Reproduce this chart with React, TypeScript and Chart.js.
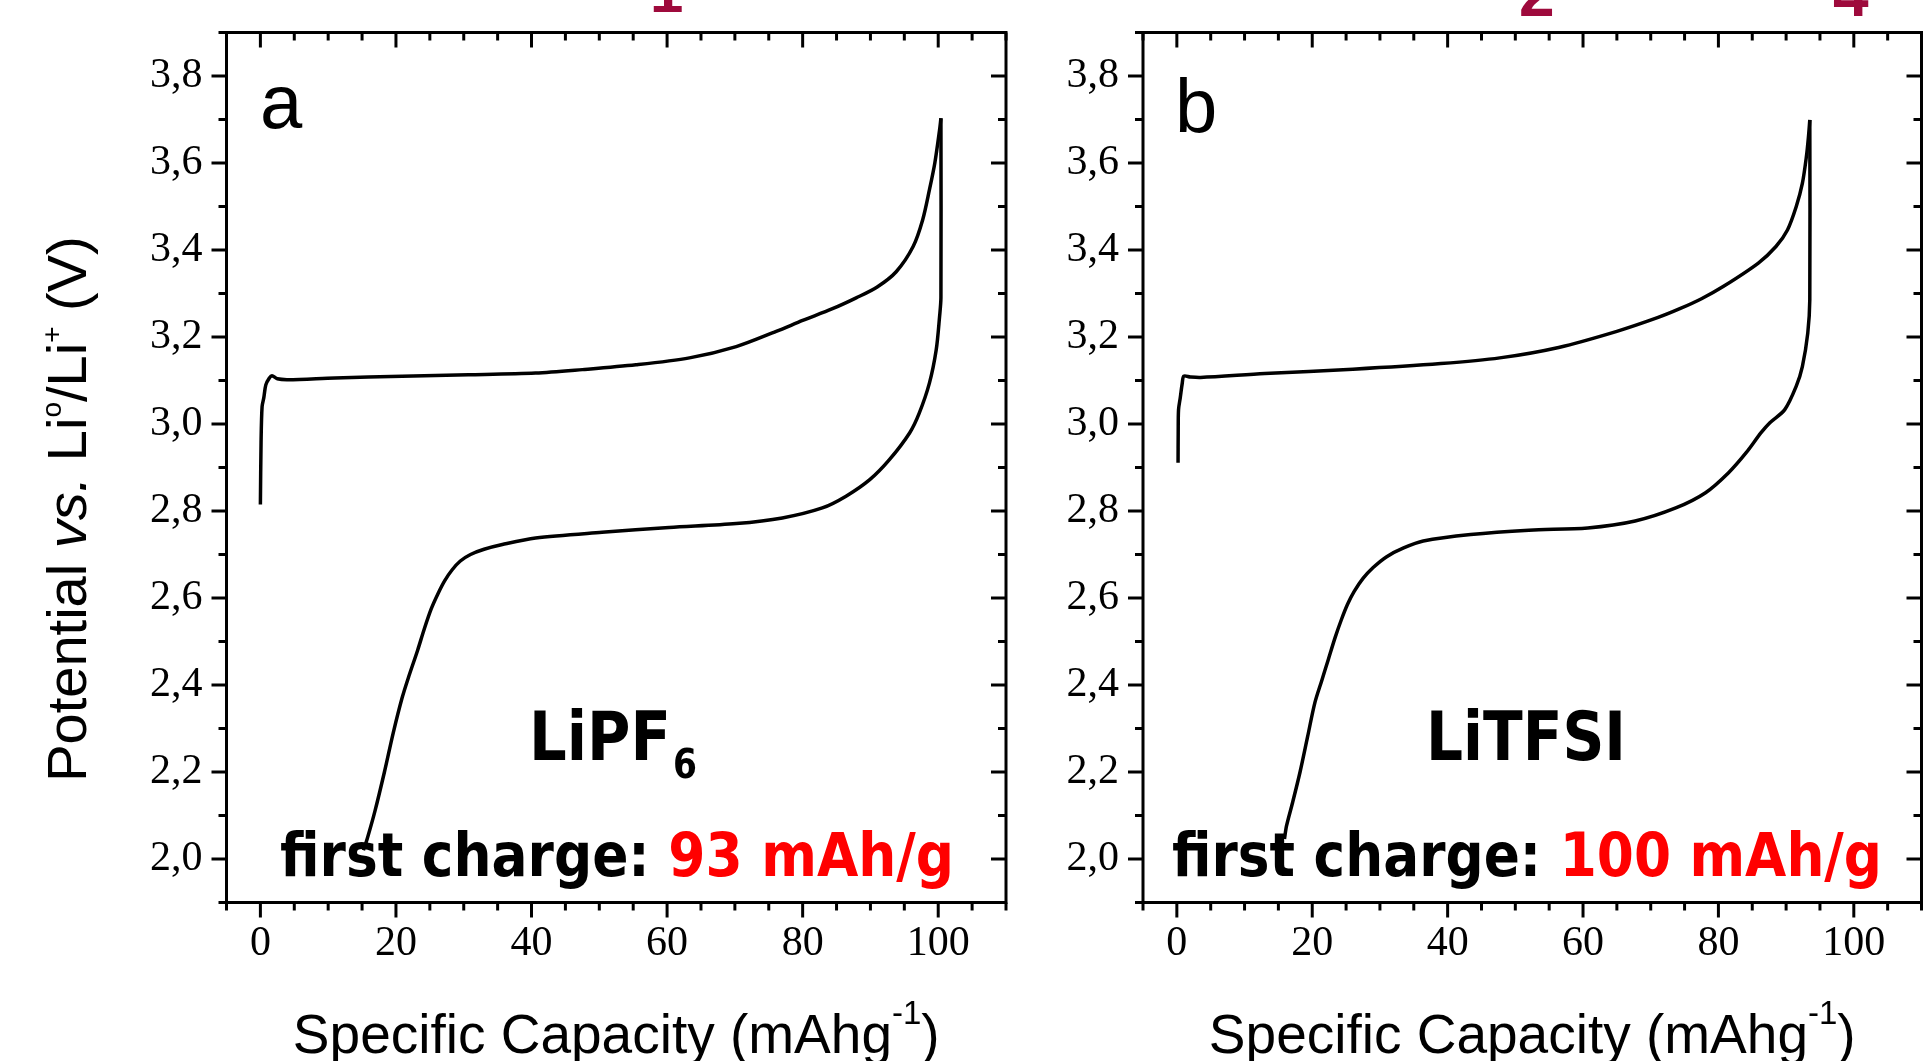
import React, { useEffect, useRef } from "react";
import { Chart, registerables } from "chart.js";

Chart.register(...registerables);

// ---------- data ----------
const xRange = [-5, 110];
const yRange = [1.9, 3.9];
const xMajorTicks = [0, 20, 40, 60, 80, 100];
const yMajorTicks = [2.0, 2.2, 2.4, 2.6, 2.8, 3.0, 3.2, 3.4, 3.6, 3.8];

// Panel a (LiPF6)
const chargeAx = [0, 0.1, 0.25, 0.5, 0.8, 1.3, 1.7, 2.5, 4.1, 11, 20.9, 30.7, 40.6, 47.5, 55.4, 63.3, 70.2, 76.1, 80, 84.4, 87.9, 91, 93.8, 96.3, 97.7, 98.7, 99.5, 100.2, 100.4];
const chargeAy = [2.815, 2.96, 3.04, 3.06, 3.09, 3.105, 3.111, 3.104, 3.102, 3.106, 3.11, 3.113, 3.117, 3.125, 3.136, 3.152, 3.178, 3.213, 3.238, 3.265, 3.29, 3.315, 3.35, 3.408, 3.469, 3.538, 3.6, 3.676, 3.703];
const dischargeAx = [100.4, 100.4, 100.2, 99.7, 98.7, 97.2, 95.8, 92.8, 89.9, 86.4, 82.9, 77, 70.2, 60.3, 50.4, 40.6, 35.7, 33, 31, 29.5, 28.3, 27.2, 26.2, 25.2, 24.2, 23.2, 21.9, 20.9, 19.6, 18.3, 16.9, 15.75, 15.2];
const dischargeAy = [3.703, 3.29, 3.247, 3.17, 3.094, 3.025, 2.98, 2.918, 2.872, 2.834, 2.807, 2.784, 2.771, 2.762, 2.751, 2.738, 2.723, 2.712, 2.7, 2.685, 2.665, 2.64, 2.61, 2.575, 2.53, 2.48, 2.42, 2.37, 2.29, 2.2, 2.11, 2.046, 2.02];

// Panel b (LiTFSI)
const chargeBx = [0.18, 0.2, 0.25, 0.5, 0.8, 1.03, 2, 3.5, 13, 26, 39, 47.7, 56.4, 65, 71.1, 74.3, 77.5, 80.7, 85.9, 88.5, 90.2, 91.5, 92.4, 93, 93.3, 93.5];
const chargeBy = [2.911, 2.98, 3.033, 3.06, 3.094, 3.11, 3.108, 3.107, 3.116, 3.126, 3.139, 3.152, 3.176, 3.213, 3.245, 3.265, 3.288, 3.316, 3.37, 3.408, 3.446, 3.5, 3.553, 3.615, 3.66, 3.699];
const dischargeBx = [93.5, 93.5, 93.2, 92.4, 91.5, 89.8, 87.6, 86.3, 84.1, 81.5, 78.1, 73.7, 67.7, 60.7, 52, 43.4, 36.4, 33.5, 31, 29, 27.5, 26.2, 25.2, 24.3, 23.4, 22.4, 21.4, 20.4, 19.3, 18.2, 17.1, 16.2, 15.9];
const dischargeBy = [3.699, 3.286, 3.209, 3.132, 3.087, 3.033, 3.003, 2.98, 2.934, 2.888, 2.842, 2.807, 2.777, 2.761, 2.756, 2.746, 2.731, 2.715, 2.695, 2.67, 2.645, 2.615, 2.585, 2.55, 2.51, 2.46, 2.41, 2.36, 2.28, 2.2, 2.13, 2.076, 2.046];

const panelLetters = ["a", "b"];
const saltNames = ["LiPF", "LiTFSI"];
const saltSubscripts = ["6", ""];
const chargePrefix = "first charge: ";
const chargeValues = ["93 mAh/g", "100 mAh/g"];
const xTitleMain = "Specific Capacity (mAhg";
const xTitleSup = "-1";
const xTitleEnd = ")";

// ---------- drawing helpers ----------
const SANS = "'Liberation Sans', Arial, sans-serif";
const SERIF = "'Liberation Serif', 'Times New Roman', serif";
const DEJAVU = "'DejaVu Sans', Verdana, sans-serif";

type Seg = { text: string; font: string; dy?: number; color?: string };

function segWidth(ctx: CanvasRenderingContext2D, segs: Seg[]) {
  let w = 0;
  for (const s of segs) {
    ctx.font = s.font;
    w += ctx.measureText(s.text).width;
  }
  return w;
}

function drawSegs(ctx: CanvasRenderingContext2D, segs: Seg[], x: number, y: number) {
  let cx = x;
  ctx.textAlign = "left";
  ctx.textBaseline = "alphabetic";
  for (const s of segs) {
    ctx.font = s.font;
    ctx.fillStyle = s.color || "#000";
    ctx.fillText(s.text, cx, y + (s.dy || 0));
    cx += ctx.measureText(s.text).width;
  }
  return cx;
}

// draws text squeezed horizontally to a given advance width, returns end x
function drawFitted(ctx: CanvasRenderingContext2D, segs: Seg[], x: number, y: number, width: number) {
  const w = segWidth(ctx, segs);
  const s = width / w;
  ctx.save();
  ctx.translate(x, y);
  ctx.scale(s, 1);
  drawSegs(ctx, segs, 0, 0);
  ctx.restore();
  return x + width;
}

const decorPlugin = {
  id: "decor",
  afterDatasetsDraw(chart: any, _args: any, o: any) {
    const { ctx, chartArea: a, scales } = chart;
    const xs = scales.x;
    const ys = scales.y;
    ctx.save();
    ctx.strokeStyle = "#000";
    ctx.lineWidth = 3;
    ctx.lineCap = "butt";
    const line = (x1: number, y1: number, x2: number, y2: number) => {
      ctx.beginPath();
      ctx.moveTo(x1, y1);
      ctx.lineTo(x2, y2);
      ctx.stroke();
    };
    // x ticks (minor every 5, major every 20)
    for (let v = xRange[0]; v <= xRange[1]; v += 5) {
      const p = xs.getPixelForValue(v);
      const major = xMajorTicks.includes(v);
      const len = major ? 15 : 8;
      line(p, a.bottom, p, a.bottom + len);
      line(p, a.top, p, a.top + len);
    }
    // y ticks (minor every 0.1, major every 0.2)
    for (let i = Math.round(yRange[0] * 10); i <= Math.round(yRange[1] * 10); i++) {
      const v = i / 10;
      const p = ys.getPixelForValue(v);
      const major = yMajorTicks.some((t) => Math.abs(t - v) < 1e-6);
      const len = major ? 15 : 8;
      line(a.left, p, a.left - len, p);
      line(a.right, p, a.right - len, p);
    }
    // frame
    ctx.strokeRect(a.left, a.top, a.right - a.left, a.bottom - a.top);

    // panel letter
    ctx.fillStyle = "#000";
    ctx.textAlign = "left";
    ctx.textBaseline = "alphabetic";
    ctx.font = `76px ${SANS}`;
    ctx.fillText(o.letter, o.letterX, o.letterY);

    // salt name
    const end = drawFitted(ctx, [{ text: o.salt, font: `bold 68px ${DEJAVU}` }], o.saltX, o.saltY, o.saltW);
    if (o.sub) drawFitted(ctx, [{ text: o.sub, font: `bold 40px ${DEJAVU}` }], end + 2, o.saltY + 18, 24);

    // first charge
    drawFitted(
      ctx,
      [
        { text: chargePrefix, font: `bold 60px ${DEJAVU}`, color: "#000" },
        { text: o.value, font: `bold 60px ${DEJAVU}`, color: "#ff0000" },
      ],
      o.chargeX,
      o.chargeY,
      o.chargeW
    );

    // x axis title
    const xt: Seg[] = [
      { text: xTitleMain, font: `55px ${SANS}` },
      { text: xTitleSup, font: `33px ${SANS}`, dy: -29 },
      { text: xTitleEnd, font: `55px ${SANS}` },
    ];
    const xw = segWidth(ctx, xt);
    drawSegs(ctx, xt, (a.left + a.right) / 2 - xw / 2, 1053);

    // y axis title
    if (o.yTitle) {
      const F = 56;
      const yt: Seg[] = [
        { text: "Potential ", font: `${F}px ${SANS}` },
        { text: "vs.", font: `italic ${F}px ${SANS}` },
        { text: " Li", font: `${F}px ${SANS}` },
        { text: "o", font: `${F * 0.5}px ${SANS}`, dy: -25 },
        { text: "/Li", font: `${F}px ${SANS}` },
        { text: "+", font: `${F * 0.5}px ${SANS}`, dy: -25 },
        { text: " (V)", font: `${F}px ${SANS}` },
      ];
      const yw = segWidth(ctx, yt);
      ctx.save();
      ctx.translate(86, 509);
      ctx.rotate(-Math.PI / 2);
      drawSegs(ctx, yt, -yw / 2, 0);
      ctx.restore();
    }

    // cut-off marks at the top edge
    for (const m of o.marks) {
      ctx.fillStyle = "#9e0a3c";
      ctx.font = `bold ${m.size}px ${SANS}`;
      ctx.textAlign = "left";
      ctx.textBaseline = "alphabetic";
      ctx.fillText(m.t, m.x, m.y);
    }
    ctx.restore();
  },
};

function pts(xs: number[], ys: number[]) {
  return xs.map((x, i) => ({ x, y: ys[i] }));
}

function makeConfig(cx: number[], cy: number[], dx: number[], dy: number[], deco: any, padding: any, yWidth: number): any {
  const tickFont = { family: SERIF, size: 42 };
  const ds = (label: string, data: any[]) => ({
    label,
    data,
    showLine: true,
    borderColor: "#000",
    backgroundColor: "#000",
    borderWidth: 3.5,
    pointRadius: 0,
    tension: 0.3,
    borderJoinStyle: "round",
    fill: false,
  });
  return {
    type: "scatter",
    data: {
      datasets: [ds("charge", pts(cx, cy)), ds("discharge", pts(dx, dy))],
    },
    options: {
      responsive: false,
      animation: false,
      devicePixelRatio: 1,
      layout: { autoPadding: false, padding },
      plugins: {
        legend: { display: false },
        tooltip: { enabled: false },
        decor: deco,
      },
      scales: {
        x: {
          type: "linear",
          position: "bottom",
          min: xRange[0],
          max: xRange[1],
          afterBuildTicks: (s: any) => {
            s.ticks = xMajorTicks.map((v) => ({ value: v }));
          },
          afterFit: (s: any) => {
            s.height = 158.5;
            s.paddingLeft = 0;
            s.paddingRight = 0;
            s.paddingTop = 0;
            s.paddingBottom = 0;
          },
          grid: { display: false, drawTicks: false },
          border: { display: false },
          ticks: {
            font: tickFont,
            color: "#000",
            padding: 16,
            maxRotation: 0,
            autoSkip: false,
            callback: (v: any) => String(v),
          },
        },
        y: {
          type: "linear",
          position: "left",
          min: yRange[0],
          max: yRange[1],
          afterBuildTicks: (s: any) => {
            s.ticks = yMajorTicks.map((v) => ({ value: v }));
          },
          afterFit: (s: any) => {
            s.width = yWidth;
            s.paddingLeft = 0;
            s.paddingRight = 0;
            s.paddingTop = 0;
            s.paddingBottom = 0;
          },
          grid: { display: false, drawTicks: false },
          border: { display: false },
          ticks: {
            font: tickFont,
            color: "#000",
            padding: 24,
            autoSkip: false,
            callback: (v: any) => Number(v).toFixed(1).replace(".", ","),
          },
        },
      },
    },
    plugins: [decorPlugin],
  };
}

export default function App() {
  const refA = useRef<HTMLCanvasElement>(null);
  const refB = useRef<HTMLCanvasElement>(null);

  useEffect(() => {
    const chartA = new Chart(
      refA.current as HTMLCanvasElement,
      makeConfig(
        chargeAx,
        chargeAy,
        dischargeAx,
        dischargeAy,
        {
          letter: panelLetters[0],
          letterX: 260,
          letterY: 127.5,
          salt: saltNames[0],
          sub: saltSubscripts[0],
          saltX: 529,
          saltY: 760,
          saltW: 142,
          chargeX: 280,
          chargeY: 876,
          chargeW: 674,
          value: chargeValues[0],
          yTitle: true,
          marks: [{ t: "1", x: 650, y: 12, size: 60 }],
        },
        { left: 0, top: 32.5, right: 917, bottom: 0 },
        226.5
      )
    );
    const chartB = new Chart(
      refB.current as HTMLCanvasElement,
      makeConfig(
        chargeBx,
        chargeBy,
        dischargeBx,
        dischargeBy,
        {
          letter: panelLetters[1],
          letterX: 1175,
          letterY: 131.5,
          salt: saltNames[1],
          sub: saltSubscripts[1],
          saltX: 1426,
          saltY: 760,
          saltW: 200,
          chargeX: 1172,
          chargeY: 876,
          chargeW: 710,
          value: chargeValues[1],
          yTitle: false,
          marks: [
            { t: "2", x: 1519, y: 16, size: 64 },
            { t: "4", x: 1833, y: 16, size: 64 },
          ],
        },
        { left: 1000, top: 32.5, right: 1.5, bottom: 0 },
        143
      )
    );
    return () => {
      chartA.destroy();
      chartB.destroy();
    };
  }, []);

  const canvasStyle: React.CSSProperties = { position: "absolute", left: 0, top: 0 };
  return (
    <div style={{ position: "fixed", left: 0, top: 0, width: 1923, height: 1061, overflow: "hidden", background: "#fff" }}>
      <canvas ref={refA} width={1923} height={1061} style={canvasStyle} />
      <canvas ref={refB} width={1923} height={1061} style={canvasStyle} />
    </div>
  );
}
